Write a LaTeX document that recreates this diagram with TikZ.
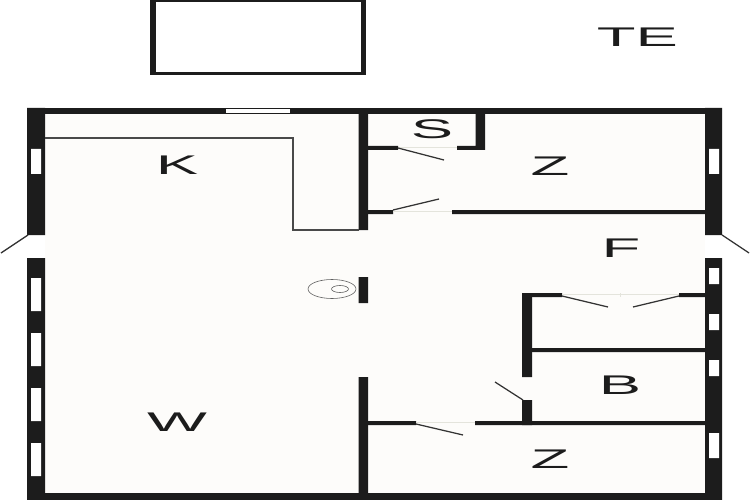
\documentclass[tikz,border=0pt]{standalone}
\usepackage{fontspec}
\setmainfont{Liberation Sans}
\definecolor{wallColor}{HTML}{1c1c1c}
\definecolor{floorColor}{HTML}{fdfcfa}
\definecolor{gapColor}{HTML}{e4e4dc}
\tikzset{wall/.style={fill=wallColor}}
\tikzset{pane/.style={fill=white}}
\tikzset{swing/.style={draw=wallColor!90,line width=1.25pt}}
\tikzset{fitting/.style={draw=wallColor!80,line width=1.1pt}}
\tikzset{sill/.style={draw=gapColor,line width=.5pt}}
\tikzset{room label/.style={text=wallColor,font=\fontsize{27}{27}\selectfont,xscale=2.35,transform shape,inner sep=0pt}}
\begin{document}
\begin{tikzpicture}[x=1pt,y=-1pt]
	\useasboundingbox (0,0) rectangle (750,500);
	\fill[white] (0,0) rectangle (750,500);
	\fill[floorColor] (45,114) rectangle (705,493);
	% terrace
	\fill[wall] (150,0) rectangle (366,75);
	\fill[white] (156,2) rectangle (361,72);
	% outer walls
	\fill[wall] (27,108) rectangle (722,114);
	\fill[wall] (27,493) rectangle (722,500);
	\fill[wall] (27,108) rectangle (45,235) (27,258) rectangle (45,500);
	\fill[wall] (705,108) rectangle (722,235) (705,258) rectangle (722,500);
	% windows
	\fill[pane] (226,109.5) rectangle (290,113);
	\fill[pane] (31,149) rectangle (41,174) (31,278) rectangle (41,311) (31,333) rectangle (41,366)
		(31,388) rectangle (41,421) (31,443) rectangle (41,476);
	\fill[pane] (709,149) rectangle (719,174) (709,268) rectangle (719,284) (709,314) rectangle (719,330)
		(709,360) rectangle (719,376) (709,433) rectangle (719,458);
	% inner walls
	\fill[wall] (358.5,114) rectangle (368,230) (358.5,277) rectangle (368,303) (358.5,377) rectangle (368,493);
	\fill[wall] (368,146) rectangle (398,150) (457,146) rectangle (485,150) (475.5,114) rectangle (485,150);
	\fill[wall] (368,210) rectangle (393,214) (452,210) rectangle (705,214);
	\fill[wall] (522,293) rectangle (562,297) (679,293) rectangle (705,297) (532,348) rectangle (705,352);
	\fill[wall] (522,293) rectangle (532,377) (522,400) rectangle (532,425);
	\fill[wall] (368,421) rectangle (416,425) (475,421) rectangle (705,425);
	% door openings
	\draw[sill] (398,147) -- (457,147);
	\draw[sill] (393,211) -- (452,211);
	\draw[sill] (562,294) -- (679,294);
	\draw[sill] (416,422) -- (475,422);
	\draw[sill] (620.5,293) -- (620.5,297);
	% door leaves
	\draw[swing] (28,235) -- (1,253);
	\draw[swing] (722,235) -- (749,253);
	\draw[swing] (398,148) -- (444,160);
	\draw[swing] (393,210) -- (439,199);
	\draw[swing] (562,296) -- (608,307);
	\draw[swing] (679,296) -- (633,307);
	\draw[swing] (523,400) -- (495,382);
	\draw[swing] (416,424) -- (463,435);
	% kitchen counter and stove
	\draw[fitting] (45,138) -- (293,138) -- (293,230) -- (359,230);
	\draw[draw=wallColor!70,line width=.6pt] (332,289) ellipse (24 and 9.5);
	\draw[draw=wallColor!70,line width=.6pt] (340,289) ellipse (8.5 and 3.5);
	% rooms
	\node[room label] at (637.5,37.5) (te) {TE};
	\node[room label] at (432,129.5) (s) {S};
	\node[room label] at (177,165.5) (k) {K};
	\node[room label] at (550,166) (z_1) {Z};
	\node[room label] at (621,248) (f) {F};
	\node[room label] at (620,385) (b) {B};
	\node[room label] at (177,422) (w) {W};
	\node[room label] at (550,459.5) (z_2) {Z};
\end{tikzpicture}
\end{document}
